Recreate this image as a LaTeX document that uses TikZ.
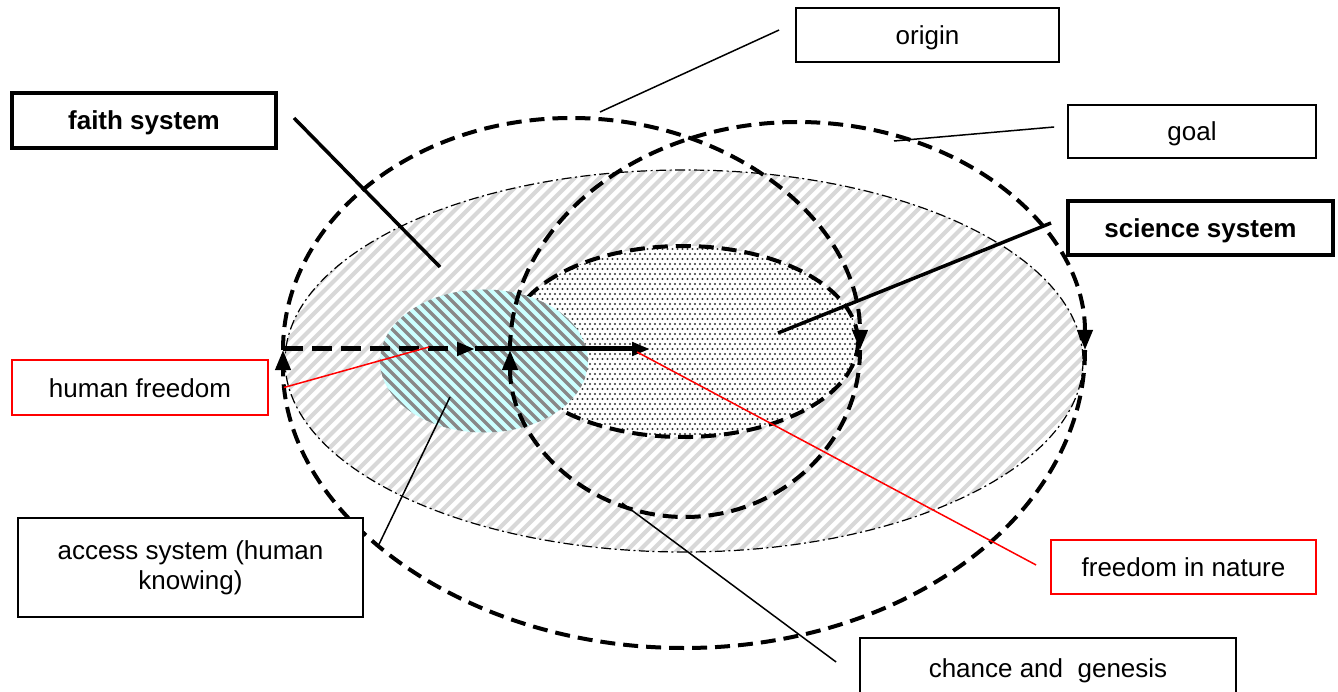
\documentclass[tikz,border=0pt]{standalone}
\usepackage{fontspec}
\setmainfont{Liberation Sans}
\usetikzlibrary{arrows.meta}

\definecolor{hatchgray}{HTML}{D8D8D8}
\definecolor{palecyan}{HTML}{CCFFFF}
\definecolor{stripegray}{HTML}{888888}
\definecolor{dotgray}{HTML}{333333}

\tikzset{
  txt/.style={font=\fontsize{26pt}{30pt}\selectfont},
  box/.style={draw, line width=1.8pt, fill=white, inner sep=0pt, align=center, txt},
  oneline/.style={text height=19pt, text depth=0pt},
  boldbox/.style={box, line width=4pt, font=\fontsize{26pt}{30pt}\selectfont\bfseries},
  redbox/.style={box, draw=red},
  loop/.style={line width=4pt, dash pattern=on 15pt off 8pt,
               -{Triangle[length=20pt,width=15pt]}},
  rim/.style={line width=4pt, dash pattern=on 15pt off 8pt},
  dashdot/.style={line width=1.2pt, dash pattern=on 10pt off 3.5pt on 2pt off 3.5pt},
  thinlink/.style={line width=1.5pt},
  thicklink/.style={line width=3.5pt},
  redlink/.style={line width=1.5pt, red},
  flow/.style={line width=5pt, -{Triangle[length=18pt,width=13pt]}},
}

\begin{document}
\begin{tikzpicture}[x=1pt,y=-1pt]
\fill[white] (0,0) rectangle (1338,692);
\useasboundingbox (0,0) rectangle (1338,692);

% large hatched region with dash-dot rim
\begin{scope}
  \clip (684,361) ellipse [x radius=399, y radius=191];
  \foreach \k in {0,...,104}
    \draw[hatchgray, line width=4pt] (-130+\k*12.5,570) -- ++(420,-420);
\end{scope}
\draw[dashdot] (684,361) ellipse [x radius=399, y radius=191];

% dotted region
\begin{scope}
  \clip (683,341.5) ellipse [x radius=175, y radius=95.5];
  \fill[white] (683,341.5) ellipse [x radius=175, y radius=95.5];
  \foreach \r [evaluate=\r as \off using {mod(\r,2)*2.5}] in {0,...,40}
    \foreach \c in {0,...,72}
      \fill[dotgray] (505+\c*5+\off, 244+\r*5) circle (1.2);
\end{scope}
\draw[rim] (683,341.5) ellipse [x radius=175, y radius=95.5];

% striped cyan region
\begin{scope}
  \clip (484,361) ellipse [x radius=104, y radius=71.5];
  \fill[palecyan] (484,361) ellipse [x radius=104, y radius=71.5];
  \foreach \k in {0,...,40}
    \draw[stripegray, line width=3.3pt] (200+\k*11,280) -- ++(180,180);
\end{scope}

% the four half loops of the spiral
\draw[loop] (283,350) arc[start angle=180, end angle=360, x radius=288.5, y radius=232];
\draw[loop] (860,350) arc[start angle=0, end angle=180, x radius=175, y radius=167];
\draw[loop] (510,350) arc[start angle=180, end angle=360, x radius=287.5, y radius=228];
\draw[loop] (1085,350) arc[start angle=0, end angle=180, x radius=401, y radius=298];

% horizontal arrows
\coordinate (hstart) at (283,349);
\coordinate (hmid) at (475,349);
\coordinate (hend) at (650,349);
\draw[flow, dash pattern=on 20pt off 9pt] (hstart) -- (hmid);
\draw[flow] (hmid) -- (hend);

% labels
\node[box, oneline, minimum width=263pt, minimum height=54pt] (origin) at (927.5,35) {origin};
\node[boldbox, oneline, minimum width=264pt, minimum height=55pt] (faith) at (144,120.5) {faith system};
\node[box, oneline, minimum width=248pt, minimum height=53pt] (goal) at (1192,131.5) {goal};
\node[boldbox, oneline, minimum width=265pt, minimum height=54pt] (science) at (1200.5,228) {science system};
\node[redbox, oneline, minimum width=256pt, minimum height=55pt] (human) at (140,387.5) {human freedom};
\node[box, minimum width=345pt, minimum height=99pt] (access) at (190.5,567.5) {access system (human\\knowing)};
\node[redbox, oneline, minimum width=265pt, minimum height=54pt] (nature) at (1183.5,567) {freedom in nature};
\node[box, oneline, minimum width=376pt, minimum height=60pt] (chance) at (1048,668) {chance and\ \ genesis};

% connector ends inside the drawing
\coordinate (pOrigin) at (600,112);
\coordinate (pFaith) at (440,267);
\coordinate (pGoal) at (894,141);
\coordinate (pScience) at (778,333);
\coordinate (pHuman) at (429,347);
\coordinate (pAccess) at (450,397);
\coordinate (pNature) at (637,352);
\coordinate (pChance) at (622,503);

% connectors
\draw[thinlink] (pOrigin) -- ([shift={(-16,-5)}]origin.west);
\draw[thicklink] ([shift={(16,-2.5)}]faith.east) -- (pFaith);
\draw[thinlink] (pGoal) -- ([shift={(-13,-4.5)}]goal.west);
\draw[thicklink] (pScience) -- ([shift={(-15,-5)}]science.west);
\draw[redlink] ([shift={(15,0)}]human.east) -- (pHuman);
\draw[thinlink] ([shift={(15,-23)}]access.east) -- (pAccess);
\draw[redlink] (pNature) -- ([shift={(-14,-2)}]nature.west);
\draw[thinlink] (pChance) -- ([shift={(-23,-6)}]chance.west);
\end{tikzpicture}
\end{document}
